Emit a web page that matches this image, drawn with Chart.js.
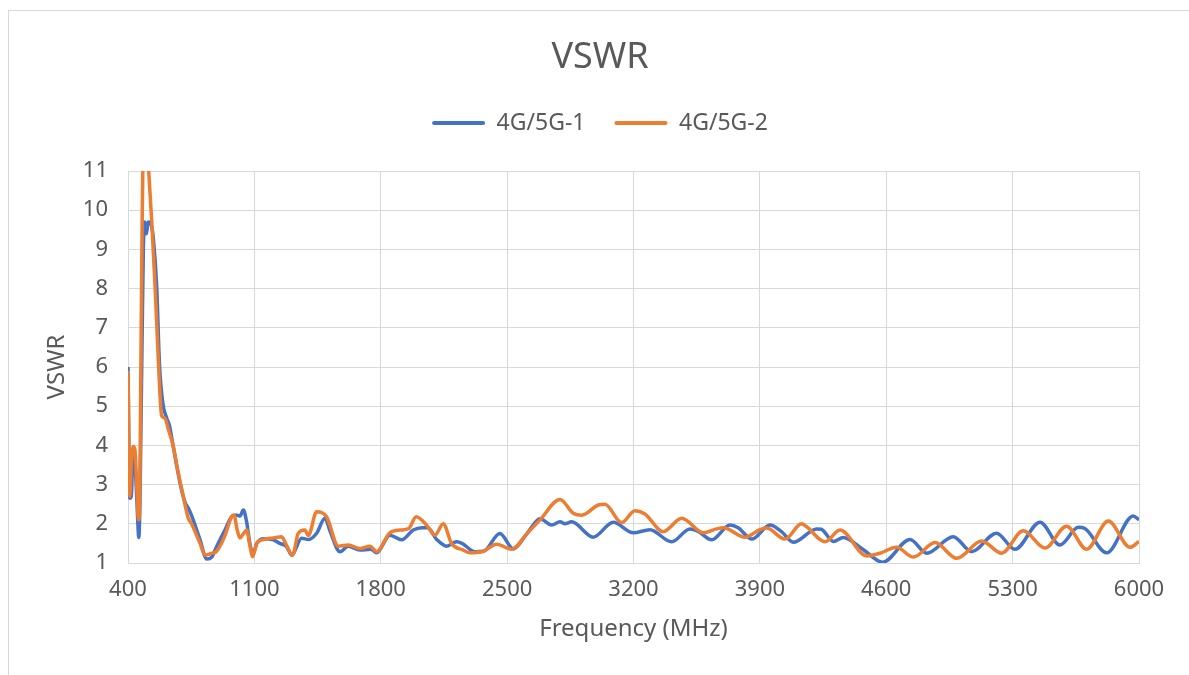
<!DOCTYPE html>
<html>
<head>
<meta charset="utf-8">
<script src="https://cdn.jsdelivr.net/npm/chart.js@4.4.1/dist/chart.umd.min.js"></script>
<style>
  html, body { margin: 0; padding: 0; background: #ffffff; overflow: hidden; }
  #frame { position: absolute; left: 8px; top: 10px; width: 1300px; height: 1000px; border: 1px solid #d9d9d9; box-sizing: border-box; }
  #c { position: absolute; left: 0; top: 0; }
</style>
</head>
<body>
<div id="frame"></div>
<canvas id="c" width="1189" height="675"></canvas>
<script>
const chartTitle = 'VSWR';
const xAxisTitle = 'Frequency (MHz)';
const yAxisTitle = 'VSWR';
const seriesNames = ['4G/5G-1', '4G/5G-2'];
const xTickValues = [400, 1100, 1800, 2500, 3200, 3900, 4600, 5300, 6000];
const yTickValues = [1, 2, 3, 4, 5, 6, 7, 8, 9, 10, 11];

const freq1 = [400,410,418,428,438,450,460,466,476,485,493,502,512,530,540,559,574,592,614,630,642,669,690,716,734,753,799,836,864,891,937,983,1005,1020,1039,1057,1076,1094,1113,1150,1205,1241,1278,1307,1362,1400,1445,1491,1520,1574,1620,1685,1745,1777,1851,1916,1980,2030,2060,2110,2165,2220,2250,2322,2370,2460,2534,2610,2682,2747,2793,2820,2857,2977,3088,3199,3291,3411,3513,3560,3633,3735,3780,3855,3956,4020,4085,4215,4240,4307,4362,4470,4580,4732,4824,4971,5073,5211,5313,5452,5562,5664,5700,5821,5968,6000];
const vswr1 = [6.0,2.65,2.7,3.8,3.6,2.5,1.65,2.5,6.0,9.0,9.7,9.4,9.7,9.6,9.3,8.05,6.1,5.1,4.7,4.5,4.2,3.5,3.0,2.55,2.4,2.2,1.59,1.1,1.15,1.42,1.84,2.22,2.22,2.2,2.35,2.05,1.47,1.25,1.5,1.62,1.59,1.5,1.42,1.2,1.63,1.6,1.76,2.14,1.8,1.29,1.43,1.33,1.35,1.26,1.71,1.59,1.84,1.9,1.9,1.6,1.43,1.54,1.5,1.29,1.3,1.75,1.36,1.75,2.13,1.97,2.05,2.0,2.05,1.66,2.04,1.77,1.85,1.54,1.87,1.8,1.59,1.97,1.9,1.61,1.97,1.8,1.53,1.87,1.86,1.55,1.65,1.35,1.02,1.6,1.25,1.67,1.29,1.76,1.35,2.04,1.46,1.91,1.88,1.26,2.2,2.1];

const freq2 = [400,410,418,428,438,450,458,464,470,478,485,495,505,512,531,550,568,577,586,605,624,651,670,697,734,752,799,827,864,891,937,974,987,1005,1020,1040,1057,1076,1090,1113,1150,1205,1251,1278,1312,1343,1380,1399,1445,1500,1565,1620,1685,1740,1777,1850,1907,1955,1996,2055,2100,2146,2192,2257,2294,2368,2442,2525,2610,2682,2793,2866,2913,3005,3042,3134,3208,3263,3364,3467,3587,3660,3697,3818,3900,3937,4039,4131,4160,4261,4344,4492,4565,4657,4750,4870,4990,5129,5239,5359,5479,5599,5710,5830,5950,6000];
const vswr2 = [5.9,2.7,3.5,3.97,3.9,2.8,2.1,2.3,5.3,9.5,11.6,11.8,11.6,11.2,9.75,8.05,6.18,5.3,4.76,4.69,4.4,3.97,3.5,2.9,2.14,2.0,1.5,1.2,1.25,1.3,1.7,2.18,2.22,1.84,1.64,1.75,1.84,1.42,1.16,1.5,1.6,1.64,1.67,1.45,1.2,1.76,1.84,1.7,2.31,2.18,1.43,1.46,1.37,1.43,1.29,1.77,1.84,1.88,2.18,1.96,1.71,2.0,1.5,1.33,1.26,1.3,1.48,1.35,1.75,2.1,2.62,2.27,2.22,2.48,2.5,2.03,2.33,2.25,1.8,2.14,1.77,1.87,1.9,1.66,1.85,1.89,1.61,2.0,1.92,1.54,1.84,1.18,1.25,1.4,1.15,1.52,1.12,1.56,1.25,1.82,1.38,1.94,1.35,2.07,1.4,1.55];

const toPoints = (xs, ys) => xs.map((x, i) => ({ x: x, y: ys[i] }));

const FONT = "'Noto Sans', 'DejaVu Sans', sans-serif";
const TEXT = '#595959';
const GRID = '#d9d9d9';

const defaultLabels = Chart.defaults.plugins.legend.labels.generateLabels;

new Chart(document.getElementById('c'), {
  type: 'line',
  data: {
    datasets: [
      { label: seriesNames[0], data: toPoints(freq1, vswr1), xAxisID: 'x', yAxisID: 'y',
        borderColor: '#4472C4', backgroundColor: '#4472C4', borderWidth: 3.5,
        pointRadius: 0, cubicInterpolationMode: 'monotone', order: 1 },
      { label: seriesNames[1], data: toPoints(freq2, vswr2), xAxisID: 'x', yAxisID: 'y',
        borderColor: '#ED7D31', backgroundColor: '#ED7D31', borderWidth: 3.5,
        pointRadius: 0, cubicInterpolationMode: 'monotone', order: 0 }
    ]
  },
  options: {
    responsive: false,
    animation: false,
    layout: { padding: { left: 40, right: 29, top: 10, bottom: 0 } },
    plugins: {
      tooltip: { enabled: false },
      title: {
        display: true, text: chartTitle, color: TEXT,
        font: { family: FONT, size: 36, weight: 'normal' },
        padding: { top: 26, bottom: 3.3 }
      },
      legend: {
        position: 'top',
        labels: {
          boxWidth: 53, boxHeight: 4, padding: 29, color: TEXT,
          font: { family: FONT, size: 23 },
          sort: (a, b) => a.datasetIndex - b.datasetIndex,
          generateLabels: (chart) => defaultLabels(chart).map(l => Object.assign(l, { lineWidth: 0, borderRadius: 2 }))
        }
      }
    },
    scales: {
      x: {
        type: 'linear', position: 'bottom', min: 400, max: 6000,
        afterBuildTicks: (s) => { s.ticks = xTickValues.map(v => ({ value: v })); },
        ticks: { callback: (v) => String(v), color: TEXT, font: { family: FONT, size: 22 }, padding: 14, maxRotation: 0, autoSkip: false },
        grid: { color: GRID, lineWidth: 1, drawTicks: false },
        border: { color: GRID },
        title: { display: true, text: xAxisTitle, color: TEXT, font: { family: FONT, size: 24 }, padding: { top: 0, bottom: 31 } },
        afterFit: (s) => { s.height = 112; s.paddingLeft = 0; s.paddingRight = 0; }
      },
      y: {
        type: 'linear', position: 'left', min: 1, max: 11,
        afterBuildTicks: (s) => { s.ticks = yTickValues.map(v => ({ value: v })); },
        ticks: { callback: (v) => String(v), color: TEXT, font: { family: FONT, size: 22 }, padding: 20 },
        grid: { color: GRID, lineWidth: 1, drawTicks: false },
        border: { color: GRID },
        title: { display: true, text: yAxisTitle, color: TEXT, font: { family: FONT, size: 24 }, padding: { top: 3, bottom: 0 } },
        afterFit: (s) => { s.width = 88; s.paddingTop = 0; s.paddingBottom = 0; }
      },
      xTop: {
        type: 'linear', axis: 'x', position: 'top', display: true,
        grid: { display: false }, border: { display: false }, ticks: { display: false },
        afterFit: (s) => { s.height = 26.5; s.paddingLeft = 0; s.paddingRight = 0; }
      },
      yRight: {
        type: 'linear', axis: 'y', position: 'right', display: true,
        grid: { display: false }, border: { display: false }, ticks: { display: false },
        afterFit: (s) => { s.width = 21; s.paddingTop = 0; s.paddingBottom = 0; }
      }
    }
  }
});
</script>
</body>
</html>
